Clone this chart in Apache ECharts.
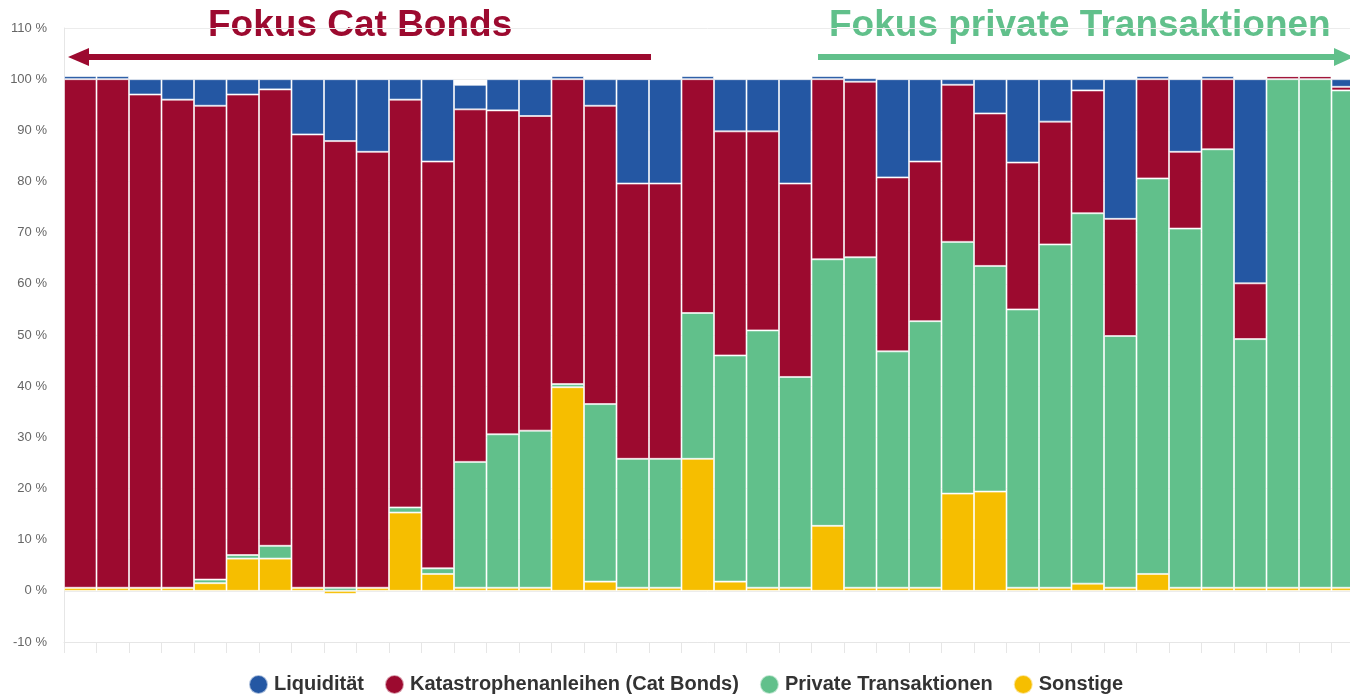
<!DOCTYPE html>
<html>
<head>
<meta charset="utf-8">
<script src="https://cdn.jsdelivr.net/npm/echarts@6/dist/echarts.min.js"></script>
<style>
html,body{margin:0;padding:0;background:#fff;}
#chart{width:1350px;height:695px;}
</style>
</head>
<body>
<div id="chart"></div>
<script>
const categories = ['1','2','3','4','5','6','7','8','9','10','11','12','13','14','15','16','17','18','19','20','21','22','23','24','25','26','27','28','29','30','31','32','33','34','35','36','37','38','39','40'];
const seriesNames = ['Liquidität','Katastrophenanleihen (Cat Bonds)','Private Transaktionen','Sonstige'];
const sonstige = [0.6,0.6,0.6,0.6,1.5,6.3,6.3,0.6,-0.6,0.6,15.3,3.3,0.6,0.6,0.6,39.8,1.8,0.6,0.6,25.8,1.8,0.6,0.6,12.7,0.6,0.6,0.6,19.0,19.4,0.6,0.6,1.4,0.6,3.3,0.6,0.6,0.6,0.6,0.6,0.6];
const privat = [0,0,0,0,0.7,0.7,2.5,0,0.6,0,1.0,1.1,24.6,30.0,30.7,0.6,34.7,25.2,25.2,28.5,44.2,50.3,41.2,52.1,64.6,46.2,52.1,49.2,44.1,54.4,67.1,72.4,49.2,77.3,70.2,85.7,48.6,99.4,99.4,97.2];
const catBonds = [99.4,99.4,96.4,95.4,92.6,90.0,89.2,88.6,87.3,85.2,79.7,79.5,68.9,63.3,61.5,59.6,58.3,53.8,53.8,45.7,43.8,38.9,37.8,35.2,34.3,34.0,31.2,30.7,29.8,28.7,24.0,24.0,22.9,19.4,15.0,13.7,10.9,0.6,0.6,0.7];
const liquiditaet = [0.6,0.6,3.0,4.0,5.2,3.0,2.0,10.8,12.1,14.2,4.0,16.1,4.8,6.1,7.2,0.6,5.2,20.4,20.4,0.6,10.2,10.2,20.4,0.6,0.7,19.2,16.1,1.1,6.7,16.3,8.3,2.2,27.3,0.6,14.2,0.6,39.9,0,0,1.5];

const colors = {blue:'#2457A3', red:'#9C0A2F', green:'#61C08B', yellow:'#F6BE00'};

function barSeries(name, data, color){
  return {
    name: name, type: 'bar', stack: 'total', data: data,
    barCategoryGap: '0%',
    itemStyle: {color: color, borderColor: 'rgba(255,255,255,0.6)', borderWidth: 1},
    emphasis: {disabled: true}
  };
}

const chart = echarts.init(document.getElementById('chart'), null, {renderer:'canvas'});
chart.setOption({
  animation: false,
  textStyle: {fontFamily: 'Liberation Sans, Arial, sans-serif'},
  grid: {left: 64, top: 28, width: 1300, bottom: 53, containLabel: false, outerBoundsMode: 'none'},
  legend: {
    data: seriesNames,
    top: 674, left: 248, padding: 0,
    icon: 'path://M0,10a10,10 0 1,0 20,0a10,10 0 1,0 -20,0',
    itemWidth: 21, itemHeight: 19, itemGap: 20,
    textStyle: {fontSize: 20, fontWeight: 'bold', color: '#333', fontFamily: 'Liberation Sans, Arial, sans-serif'}
  },
  xAxis: {
    type: 'category', data: categories,
    axisLine: {show: true, onZero: false, lineStyle: {color: '#e6e6e6'}},
    axisTick: {show: true, length: 11, lineStyle: {color: '#e6e6e6'}},
    axisLabel: {show: false}
  },
  yAxis: {
    type: 'value', min: -10, max: 110, interval: 10,
    axisLine: {show: true, lineStyle: {color: '#e6e6e6'}},
    axisTick: {show: false},
    splitLine: {lineStyle: {color: '#ececec'}},
    axisLabel: {formatter: '{value} %', fontSize: 13, color: '#666', margin: 17}
  },
  series: [
    barSeries('Sonstige', sonstige, colors.yellow),
    barSeries('Private Transaktionen', privat, colors.green),
    barSeries('Katastrophenanleihen (Cat Bonds)', catBonds, colors.red),
    barSeries('Liquidität', liquiditaet, colors.blue)
  ],
  graphic: [
    {type:'text', style:{x: 208, y: 26, text:'Fokus Cat Bonds', fill: colors.red, verticalAlign:'middle', align:'left', font:'bold 37px "Liberation Sans", Arial, sans-serif'}},
    {type:'text', style:{x: 829, y: 26, text:'Fokus private Transaktionen', fill: colors.green, verticalAlign:'middle', align:'left', font:'bold 37px "Liberation Sans", Arial, sans-serif'}},
    {type:'line', shape:{x1: 84, y1: 57, x2: 651, y2: 57}, style:{stroke: colors.red, lineWidth: 6}},
    {type:'polygon', shape:{points:[[68,57],[89,48],[89,66]]}, style:{fill: colors.red}},
    {type:'line', shape:{x1: 818, y1: 57, x2: 1336, y2: 57}, style:{stroke: colors.green, lineWidth: 6}},
    {type:'polygon', shape:{points:[[1354,57],[1334,48],[1334,66]]}, style:{fill: colors.green}}
  ]
});
</script>
</body>
</html>
